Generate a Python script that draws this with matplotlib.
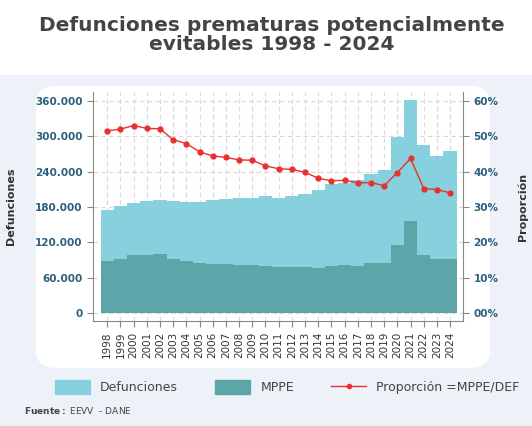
import matplotlib
matplotlib.use("Agg")
import matplotlib.pyplot as plt
from matplotlib.patches import FancyBboxPatch, Rectangle
from matplotlib.lines import Line2D
import numpy as np

years = list(range(1998, 2025))
defunciones = [175000, 182000, 186500, 190500, 192000, 190500, 189000, 189000, 192000, 194000,
               195600, 195600, 199000, 195600, 199000, 202000, 209000, 219000, 220000, 226000,
               236000, 243000, 299000, 362000, 285000, 267000, 275000]
mppe = [88700, 92000, 98000, 98000, 99500, 92000, 88700, 85000, 83700, 83700,
        82000, 82000, 80000, 78600, 78600, 78600, 77000, 80000, 82000, 80000,
        85000, 85000, 116000, 156600, 99000, 92000, 92000]
proporcion = [51.5, 52.0, 53.0, 52.2, 52.1, 49.0, 47.9, 45.6, 44.4, 44.0,
              43.3, 43.2, 41.6, 40.8, 40.6, 39.8, 38.1, 37.4, 37.5, 36.8,
              36.9, 36.0, 39.7, 43.7, 35.2, 34.9, 34.0]
yticks_left = [0, 60000, 120000, 180000, 240000, 300000, 360000]
yticklabels_left = ["0", "60.000", "120.000", "180.000", "240.000", "300.000", "360.000"]
yticks_right = [0, 10, 20, 30, 40, 50, 60]
yticklabels_right = ["00%", "10%", "20%", "30%", "40%", "50%", "60%"]

c_light = "#87d0de"
c_dark = "#5ca6a9"
c_red = "#e8312f"
c_tick = "#2b5f7e"
c_bg = "#edf2f9"

fig = plt.figure(figsize=(5.32, 4.26), dpi=100)
fig.patch.set_facecolor("white")
W, H = 532, 426
def fx(x): return x / W
def fy(y): return 1 - y / H

fig.patches.append(Rectangle((0, 0), 1, fy(75), transform=fig.transFigure, facecolor=c_bg, edgecolor="none", zorder=-2))
fig.patches.append(FancyBboxPatch((fx(36), fy(368)), fx(490) - fx(36), fy(86) - fy(368),
                                  boxstyle="round,pad=0,rounding_size=0.04", transform=fig.transFigure,
                                  facecolor="white", edgecolor="none", zorder=-1))

fig.text(0.51, fy(35), "Defunciones prematuras potencialmente\nevitables 1998 - 2024", ha="center", va="center",
         fontsize=14.5, fontweight="bold", color="#444444", linespacing=1.0)

ax = fig.add_axes([fx(93), fy(321), fx(463) - fx(93), fy(92) - fy(321)])
ax.set_zorder(2)
ax.set_facecolor("none")
ax.bar(years, defunciones, width=1.0, color=c_light, zorder=2)
ax.bar(years, mppe, width=1.0, color=c_dark, zorder=3)
ax.set_xlim(1996.92, 2024.98)
ax.set_ylim(-13600, 375000)
ax.set_yticks(yticks_left)
ax.set_yticklabels(yticklabels_left, color=c_tick, fontsize=7.5, fontweight="bold")
ax.set_xticks(years)
ax.set_xticklabels([str(y) for y in years], rotation=90, fontsize=7.5, color="#333333")
ax.grid(True, axis="both", linestyle=(0, (4, 3)), color="#d8d8d8", linewidth=0.8, zorder=1)
ax.set_axisbelow(True)
for s in ["top", "right"]:
    ax.spines[s].set_visible(False)
ax.spines["left"].set_color("#888888")
ax.spines["bottom"].set_color("#888888")
ax.tick_params(axis="both", color="#888888", length=4)
ax.set_ylabel("Defunciones", fontsize=8, fontweight="bold", color="#333333", labelpad=14)

ax2 = ax.twinx()
ax2.set_zorder(3)
ax2.plot(years, proporcion, color=c_red, marker="o", markersize=3.5, linewidth=1, zorder=5)
ax2.set_ylim(-13600 / 6000, 375000 / 6000)
ax2.set_yticks(yticks_right)
ax2.set_yticklabels(yticklabels_right, color=c_tick, fontsize=7.5, fontweight="bold")
for s in ["top", "left"]:
    ax2.spines[s].set_visible(False)
ax2.spines["right"].set_color("#888888")
ax2.spines["bottom"].set_visible(False)
ax2.tick_params(axis="y", color="#888888", length=4)
ax2.set_ylabel("Proporción", fontsize=8, fontweight="bold", color="#333333", labelpad=14)

handles = [Rectangle((0, 0), 1, 1, color=c_light), Rectangle((0, 0), 1, 1, color=c_dark),
           Line2D([], [], color=c_red, marker="o", markersize=3, linewidth=1)]
fig.legend(handles, ["Defunciones", "MPPE", "Proporción =MPPE/DEF"], loc="center",
           bbox_to_anchor=(0.54, fy(387)), ncol=3, frameon=False, fontsize=9,
           labelcolor="#444444", handlelength=2.8, handleheight=1.3, columnspacing=3.0)

fig.text(fx(24), fy(410), r"$\bf{Fuente:}$ EEVV  - DANE", fontsize=6.5, color="#444444", va="center")

fig.savefig("out.png", dpi=100)
